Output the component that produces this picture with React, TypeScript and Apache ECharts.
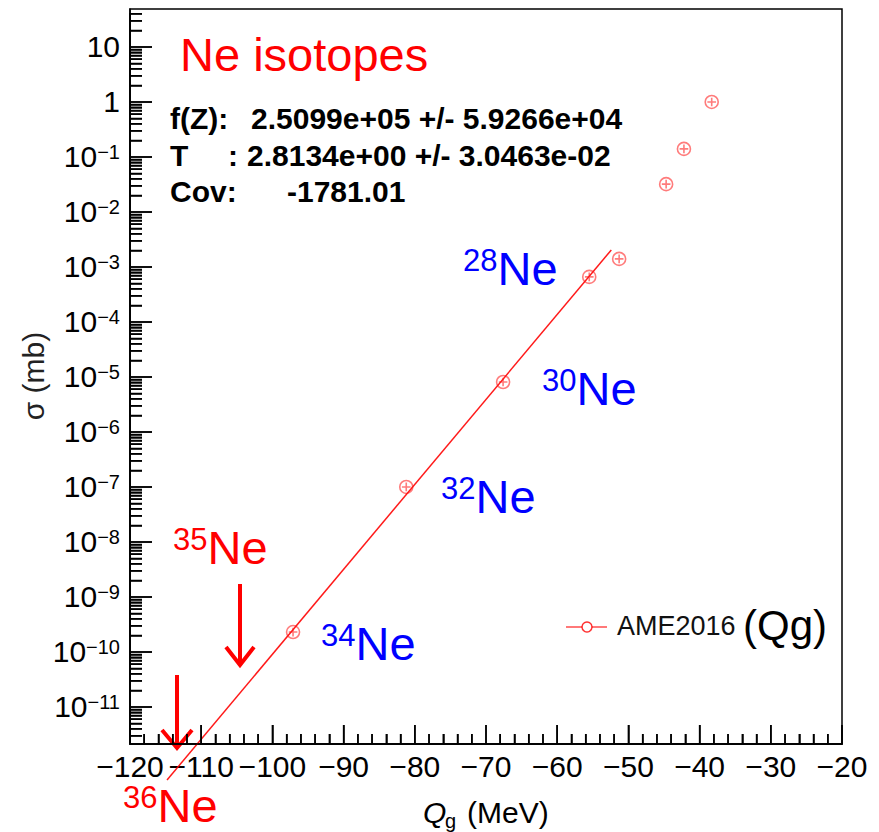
import React, { useEffect, useRef } from 'react';
import * as echarts from 'echarts';

// ---- data ----
const qValues = [-97.1, -81.2, -67.6, -55.5, -51.3, -44.7, -42.2, -38.3];
const sigmaValues = [2.3e-10, 1.0e-7, 8.1e-6, 6.6e-4, 1.4e-3, 3.2e-2, 0.14, 1.0];
const fitQ = [-114.8, -52.4];
const fitSigma = [4.7e-13, 2.04e-3];
const xMin = -120;
const xMax = -20;
const yMin = 2.12e-12;
const yMax = 49;
const xMajorTicks = [-120, -110, -100, -90, -80, -70, -60, -50, -40, -30, -20];
const xMinorTicks: number[] = [];
for (let v = -118; v < -20; v += 2) if (v % 10 !== 0) xMinorTicks.push(v);
const yMajorTicks = [1e-11, 1e-10, 1e-9, 1e-8, 1e-7, 1e-6, 1e-5, 1e-4, 1e-3, 1e-2, 1e-1, 1, 10];
const yMinorTicks: number[] = [];
for (let e = -12; e <= 1; e++) {
  for (let d = 2; d <= 9; d++) {
    const v = d * Math.pow(10, e);
    if (v > yMin && v < yMax) yMinorTicks.push(v);
  }
}
const isotopes = [
  { mass: '28', kind: 'meas' },
  { mass: '30', kind: 'meas' },
  { mass: '32', kind: 'meas' },
  { mass: '34', kind: 'meas' },
  { mass: '35', kind: 'pred' },
  { mass: '36', kind: 'pred' },
];
const statLabels = ['f(Z):', 'T', 'Cov:'];
const statValues = ['2.5099e+05 +/- 5.9266e+04', '2.8134e+00 +/- 3.0463e-02', '-1781.01'];

const FONT = '"Liberation Sans", Arial, Helvetica, sans-serif';

// layout (pixels) for annotations
const isoPos: Record<string, [number, number]> = {
  '28': [463, 245],
  '30': [542, 365],
  '32': [441, 473],
  '34': [321, 620],
  '35': [173, 524],
  '36': [123, 782],
};

function minusFmt(v: number) {
  return v < 0 ? '\u2212' + Math.abs(v) : String(v);
}

export default function App() {
  const ref = useRef<HTMLDivElement>(null);
  useEffect(() => {
    document.body.style.margin = '0';
    if (!ref.current) return;
    const chart = echarts.init(ref.current, null, { renderer: 'svg' });

    const fitSeries: any = {
      type: 'line',
      name: 'fit',
      data: fitQ.map((q, i) => [q, fitSigma[i]]),
      showSymbol: false,
      clip: false,
      lineStyle: { color: 'rgba(255,0,0,0.9)', width: 1.5 },
      z: 3,
    };
    const pointSeries: any = {
      type: 'scatter',
      name: 'AME2016',
      data: qValues.map((q, i) => [q, sigmaValues[i]]),
      symbol: 'path://M10,1A9,9,0,1,1,10,19A9,9,0,1,1,10,1ZM10,4L10,16M4,10L16,10',
      symbolSize: 13,
      itemStyle: { color: 'rgba(255,0,0,0)', borderColor: 'rgba(255,20,20,0.7)', borderWidth: 1.6 },
      z: 4,
    };

    const option: any = {
      animation: false,
      backgroundColor: '#fff',
      grid: {
        left: 130, right: 37, top: 9, bottom: 88,
        show: true, borderColor: '#000', borderWidth: 1.5, backgroundColor: 'transparent',
        containLabel: false, outerBoundsMode: 'none',
      },
      xAxis: {
        type: 'value', min: xMin, max: xMax, interval: 10,
        axisLine: { show: true, onZero: false, lineStyle: { color: '#000', width: 1.5 } },
        axisTick: { show: false },
        minorTick: { show: false },
        splitLine: { show: false },
        axisLabel: {
          formatter: minusFmt, fontSize: 30, fontFamily: FONT, color: '#000', margin: 7,
          showMinLabel: true, showMaxLabel: true,
        },
      },
      yAxis: {
        type: 'log', logBase: 10, min: yMin, max: yMax,
        axisLine: { show: true, onZero: false, lineStyle: { color: '#000', width: 1.5 } },
        axisTick: { show: false },
        minorTick: { show: false },
        splitLine: { show: false },
        axisLabel: {
          customValues: yMajorTicks,
          margin: 10, color: '#000', fontFamily: FONT, fontSize: 30,
          formatter: (v: number) => {
            const e = Math.round(Math.log10(v));
            if (e === 1) return '{b|10}';
            if (e === 0) return '{b|1}';
            return '{b|10}{s|\u2212' + Math.abs(e) + '}';
          },
          rich: {
            b: { fontSize: 30, lineHeight: 30, fontFamily: FONT, color: '#000' },
            s: { fontSize: 20, lineHeight: 16, fontFamily: FONT, color: '#000', verticalAlign: 'top' },
          },
        },
      },
      series: [fitSeries, pointSeries],
    };
    chart.setOption(option);

    const finder = { xAxisIndex: 0, yAxisIndex: 0 };
    const toPx = (x: number, y: number) => chart.convertToPixel(finder, [x, y]) as number[];
    const fromPx = (x: number, y: number) => chart.convertFromPixel(finder, [x, y]) as number[];

    const graphics: any[] = [];
    // axis titles
    graphics.push({
      type: 'text', x: 33, y: 376, rotation: Math.PI / 2,
      style: { text: '\u03c3 (mb)', fontSize: 30, fontFamily: FONT, fill: '#222', align: 'center', verticalAlign: 'middle' },
    });
    graphics.push({
      type: 'text', x: 423, y: 812,
      style: { text: 'Q', fontSize: 30, fontStyle: 'italic', fontFamily: FONT, fill: '#000', verticalAlign: 'middle' },
    });
    graphics.push({
      type: 'text', x: 445, y: 821,
      style: { text: 'g', fontSize: 20, fontFamily: FONT, fill: '#000', verticalAlign: 'middle' },
    });
    graphics.push({
      type: 'text', x: 467, y: 812,
      style: { text: '(MeV)', fontSize: 30, fontFamily: FONT, fill: '#000', verticalAlign: 'middle' },
    });
    // title
    graphics.push({
      type: 'text', x: 180, y: 54,
      style: { text: 'Ne isotopes', fontSize: 47, fontFamily: FONT, fill: '#ff0000', verticalAlign: 'middle', align: 'left' },
    });
    // stats
    const statY = [118, 155, 191];
    const valX = [251, 247, 287];
    statLabels.forEach((s, i) => {
      graphics.push({
        type: 'text', x: 170, y: statY[i],
        style: { text: s, fontSize: 30, fontWeight: 'bold', fontFamily: FONT, fill: '#000', verticalAlign: 'middle' },
      });
      graphics.push({
        type: 'text', x: valX[i], y: statY[i],
        style: { text: statValues[i], fontSize: 30, fontWeight: 'bold', fontFamily: FONT, fill: '#000', verticalAlign: 'middle' },
      });
    });
    graphics.push({
      type: 'text', x: 228, y: statY[1],
      style: { text: ':', fontSize: 30, fontWeight: 'bold', fontFamily: FONT, fill: '#000', verticalAlign: 'middle' },
    });
    // isotope labels
    isotopes.forEach((iso) => {
      const col = iso.kind === 'meas' ? '#0000ff' : '#ff0000';
      const [x, y] = isoPos[iso.mass];
      graphics.push({
        type: 'text', x, y,
        style: {
          text: '{s|' + iso.mass + '}{n|Ne}',
          verticalAlign: 'top', align: 'left',
          rich: {
            s: { fontSize: 31, lineHeight: 24, fontFamily: FONT, fill: col, verticalAlign: 'top' },
            n: { fontSize: 47, lineHeight: 46, fontFamily: FONT, fill: col },
          },
        },
      });
    });
    // arrows
    const arrowStyle = { stroke: '#ff0000', lineWidth: 4 };
    graphics.push({ type: 'line', shape: { x1: 240, y1: 584, x2: 240, y2: 664 }, style: { ...arrowStyle } });
    graphics.push({ type: 'polyline', shape: { points: [[226, 647], [240, 665], [254, 647]] }, style: { ...arrowStyle, fill: 'none' } });
    graphics.push({ type: 'line', shape: { x1: 177, y1: 675, x2: 177, y2: 746 }, style: { ...arrowStyle } });
    graphics.push({ type: 'polyline', shape: { points: [[162, 730], [177, 748], [192, 730]] }, style: { ...arrowStyle, fill: 'none' } });
    // legend
    graphics.push({ type: 'line', shape: { x1: 566, y1: 627, x2: 607, y2: 627 }, style: { stroke: 'rgba(255,0,0,0.7)', lineWidth: 1.5 } });
    graphics.push({ type: 'circle', shape: { cx: 587, cy: 627, r: 5 }, style: { stroke: 'rgba(255,0,0,0.8)', fill: '#fff', lineWidth: 1.5 } });
    graphics.push({
      type: 'text', x: 617, y: 626,
      style: { text: 'AME2016', fontSize: 27, fontFamily: FONT, fill: '#111', verticalAlign: 'middle' },
    });
    graphics.push({
      type: 'text', x: 743, y: 625,
      style: { text: '(Qg)', fontSize: 42, fontFamily: FONT, fill: '#000', verticalAlign: 'middle' },
    });

    // ROOT-style inside ticks, positioned by the chart's own scales
    const yTickDefs: number[][] = yMajorTicks.map((v) => [v, 22]).concat(yMinorTicks.map((v) => [v, 12]));
    yTickDefs.sort((a, b) => a[0] - b[0]);
    const xTickDefs: number[][] = xMajorTicks.map((v) => [v, 19]).concat(xMinorTicks.map((v) => [v, 10]));
    xTickDefs.sort((a, b) => a[0] - b[0]);

    // comb-shaped polylines running along the axes
    const yComb: number[][] = [];
    yTickDefs.forEach(([v, len]) => {
      const p = toPx(xMin, v);
      yComb.push([p[0], p[1]], [p[0] + len, p[1]], [p[0], p[1]]);
    });
    const xComb: number[][] = [];
    xTickDefs.forEach(([v, len]) => {
      const p = toPx(v, yMin);
      xComb.push([p[0], p[1]], [p[0], p[1] - len], [p[0], p[1]]);
    });
    graphics.push({ type: 'polyline', z: 30, shape: { points: yComb }, style: { stroke: '#000', lineWidth: 1.5, fill: 'none' } });
    graphics.push({ type: 'polyline', z: 30, shape: { points: xComb }, style: { stroke: '#000', lineWidth: 1.5, fill: 'none' } });

    // the same ticks as a 'lines' series in data space
    const tickSegs: any[] = [];
    yTickDefs.forEach(([v, len]) => {
      const p = toPx(xMin, v);
      const end = fromPx(p[0] + len, p[1]);
      tickSegs.push({ coords: [[xMin, v], [end[0], v]] });
    });
    xTickDefs.forEach(([v, len]) => {
      const p = toPx(v, yMin);
      const end = fromPx(p[0], p[1] - len);
      tickSegs.push({ coords: [[v, yMin], [v, end[1]]] });
    });
    const tickSeries: any = {
      type: 'lines',
      coordinateSystem: 'cartesian2d',
      silent: true,
      z: 10,
      data: tickSegs,
      lineStyle: { color: '#000', width: 1.5, opacity: 1, curveness: 0 },
    };

    chart.setOption({ series: [fitSeries, pointSeries, tickSeries], graphic: graphics });
    return () => chart.dispose();
  }, []);
  return <div ref={ref} style={{ width: 879, height: 832 }} />;
}
